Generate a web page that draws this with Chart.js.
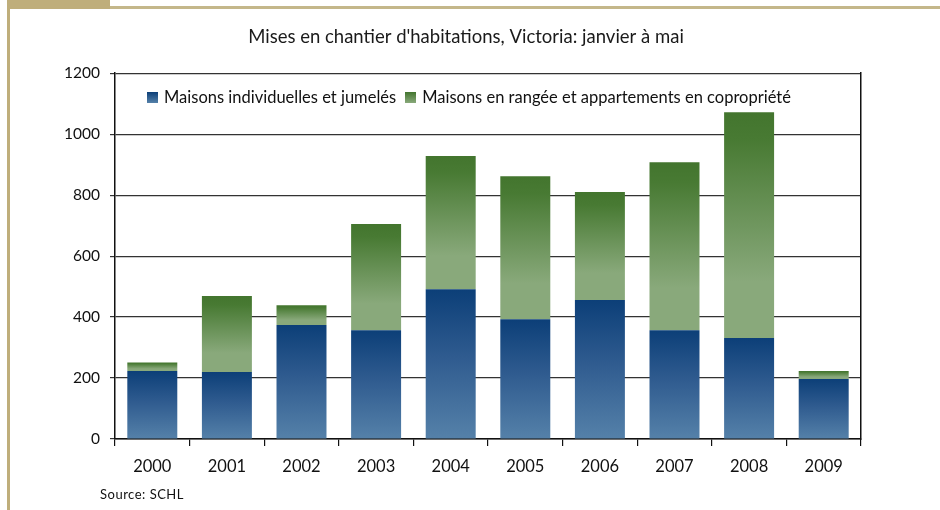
<!DOCTYPE html>
<html>
<head>
<meta charset="utf-8">
<script src="https://cdn.jsdelivr.net/npm/chart.js@4/dist/chart.umd.min.js"></script>
<style>
  html,body{margin:0;padding:0;background:#fff;}
  #wrap{position:relative;width:940px;height:510px;overflow:hidden;font-family:Lato,"Open Sans",sans-serif;}
  #c{position:absolute;left:0;top:0;}
  .f{position:absolute;background:#BFAE7B;}
  #legend{position:absolute;left:147px;top:87px;font-size:16.5px;color:#111;white-space:nowrap;display:flex;align-items:center;}
  #legend .sw{display:inline-block;width:11px;height:11px;margin-right:6px;}
  #legend .it{display:flex;align-items:center;margin-right:9px;}
  #src{position:absolute;left:100px;top:486px;font-size:13px;letter-spacing:0.5px;color:#111;}
</style>
</head>
<body>
<div id="wrap">
  <canvas id="c" width="940" height="510"></canvas>
  <div class="f" style="left:7px;top:0;width:103px;height:9px;"></div>
  <div class="f" style="left:110px;top:6px;width:830px;height:3px;background:#C4B78A;"></div>
  <div class="f" style="left:7px;top:0;width:3px;height:510px;"></div>
  <div id="legend">
    <span class="it"><span class="sw" style="background:linear-gradient(#0C3F78,#5581A9)"></span><span id="l1"></span></span>
    <span class="it"><span class="sw" style="background:linear-gradient(#43752E,#89A97B)"></span><span id="l2"></span></span>
  </div>
  <div id="src">Source: SCHL</div>
</div>
<script>
const categories = ['2000','2001','2002','2003','2004','2005','2006','2007','2008','2009'];
const seriesNames = ['Maisons individuelles et jumelés', 'Maisons en rangée et appartements en copropriété'];
const individuelles = [223, 220, 374, 357, 491, 393, 456, 357, 331, 197];
const rangee = [28, 249, 65, 348, 437, 469, 354, 551, 741, 26];
const yTicks = [0, 200, 400, 600, 800, 1000, 1200];
const titleText = "Mises en chantier d'habitations, Victoria: janvier à mai";

document.getElementById('l1').textContent = seriesNames[0];
document.getElementById('l2').textContent = seriesNames[1];

function makeGrad(c, base, val, stops, fallback) {
  const chart = c.chart;
  const area = chart.chartArea;
  if (!area || c.type !== 'data' || !chart.scales.y) return fallback;
  const y = chart.scales.y;
  const y0 = y.getPixelForValue(base + val);
  const y1 = y.getPixelForValue(base);
  if (!isFinite(y0) || !isFinite(y1) || y1 - y0 < 0.5) return fallback;
  const g = chart.ctx.createLinearGradient(0, y0, 0, y1);
  stops.forEach(s => g.addColorStop(s[0], s[1]));
  return g;
}

new Chart(document.getElementById('c'), {
  type: 'bar',
  data: {
    labels: categories,
    datasets: [
      {
        label: seriesNames[0],
        data: individuelles,
        backgroundColor: c => makeGrad(c, 0, individuelles[c.dataIndex],
          [[0,'#0C3F78'],[0.45,'#2F5B8F'],[1,'#5581A9']], '#2F5B8F'),
        borderWidth: 0
      },
      {
        label: seriesNames[1],
        data: rangee,
        backgroundColor: c => makeGrad(c, individuelles[c.dataIndex], rangee[c.dataIndex],
          [[0,'#43752E'],[0.12,'#487A33'],[0.75,'#89A97B'],[1,'#89A97B']], '#6A924F'),
        borderWidth: 0
      }
    ]
  },
  options: {
    responsive: false,
    animation: false,
    devicePixelRatio: 1,
    layout: { padding: { left: 55, right: 63, top: 10, bottom: 31 } },
    datasets: { bar: { categoryPercentage: 1.0, barPercentage: 0.67 } },
    plugins: {
      legend: { display: false },
      tooltip: { enabled: false },
      title: {
        display: true,
        text: titleText,
        color: '#1a1a1a',
        font: { family: 'Lato', size: 18.5, weight: 'normal', lineHeight: 1.2 },
        padding: { top: 16, bottom: 25 }
      }
    },
    scales: {
      x: {
        stacked: true,
        afterFit: s => { s.height = 40; },
        grid: { display: true, drawOnChartArea: false, drawTicks: true, tickLength: 7, color: '#111', lineWidth: 1.2, offset: true },
        border: { display: true, color: '#111', width: 1.5 },
        ticks: { color: '#111', padding: 11, font: { family: 'Lato', size: 16.5 } }
      },
      y: {
        stacked: true,
        min: 0,
        max: 1200,
        afterFit: s => { s.width = 60; },
        afterBuildTicks: s => { s.ticks = yTicks.map(v => ({ value: v })); },
        grid: { color: '#333', lineWidth: 1.2, tickLength: 5, drawTicks: true },
        border: { display: true, color: '#111', width: 1.5 },
        ticks: { color: '#111', padding: 10, font: { family: 'Lato', size: 15.5 }, callback: v => String(v) }
      },
      y2: {
        position: 'right',
        min: 0,
        max: 1200,
        afterFit: s => { s.width = 16; },
        grid: { display: false },
        border: { display: true, color: '#111', width: 1.5 },
        ticks: { display: false }
      }
    }
  }
});
</script>
</body>
</html>
